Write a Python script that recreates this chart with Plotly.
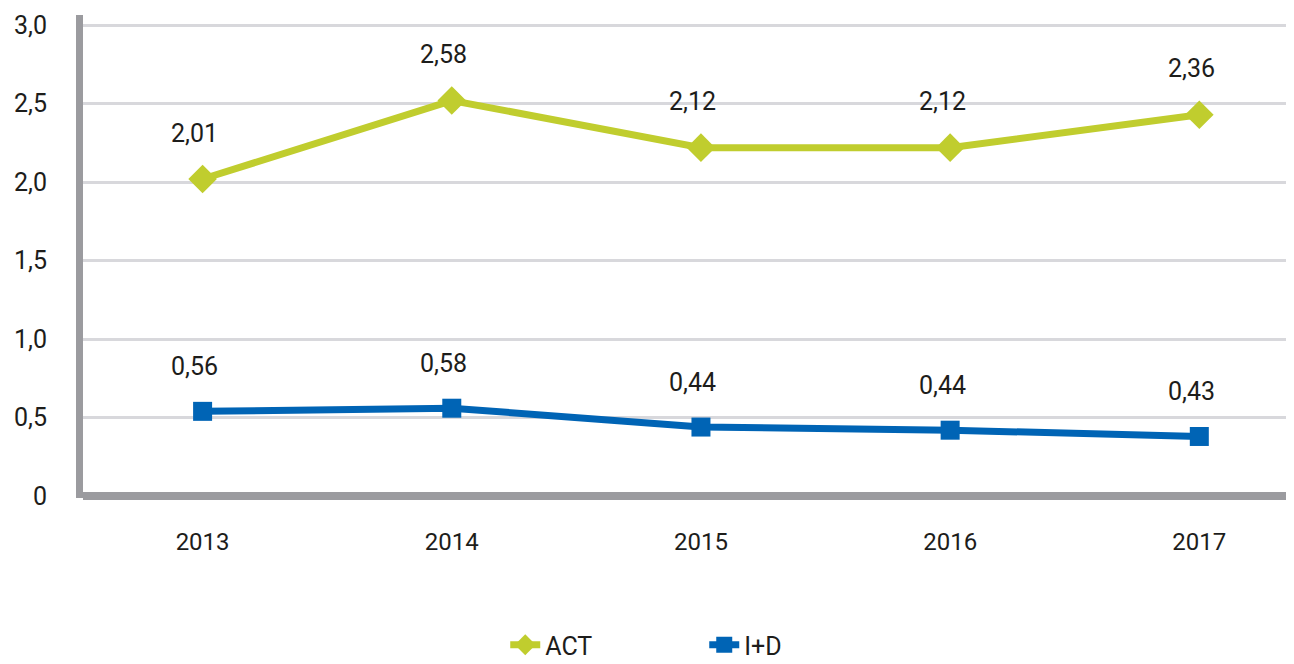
import plotly.graph_objects as go

years = ["2013", "2014", "2015", "2016", "2017"]
act_values = [2.02, 2.52, 2.22, 2.22, 2.43]
act_labels = ["2,01", "2,58", "2,12", "2,12", "2,36"]
id_values = [0.54, 0.56, 0.44, 0.42, 0.38]
id_labels = ["0,56", "0,58", "0,44", "0,44", "0,43"]
y_ticks = [0, 0.5, 1.0, 1.5, 2.0, 2.5, 3.0]
y_ticktext = ["0", "0,5", "1,0", "1,5", "2,0", "2,5", "3,0"]

ACT_COLOR = "#c0cd2e"
ID_COLOR = "#0064b5"
AXIS_COLOR = "#9b9b9f"
TEXT_COLOR = "#1d1d1b"
FONT = "Roboto"
xs = list(range(len(years)))

fig = go.Figure()
fig.add_trace(go.Scatter(
    x=xs, y=act_values, name="ACT", mode="lines+markers",
    line=dict(color=ACT_COLOR, width=7),
    marker=dict(symbol="diamond", size=22, color=ACT_COLOR),
))
fig.add_trace(go.Scatter(
    x=xs, y=id_values, name="I+D", mode="lines+markers",
    line=dict(color=ID_COLOR, width=7),
    marker=dict(symbol="square", size=19, color=ID_COLOR),
))

for i, (v, t) in enumerate(zip(act_values, act_labels)):
    fig.add_annotation(x=xs[i], y=v, text=t, showarrow=False, yshift=46, xshift=-8,
                       font=dict(family=FONT, size=25, color=TEXT_COLOR))
for i, (v, t) in enumerate(zip(id_values, id_labels)):
    fig.add_annotation(x=xs[i], y=v, text=t, showarrow=False, yshift=45, xshift=-8,
                       font=dict(family=FONT, size=25, color=TEXT_COLOR))

fig.update_layout(
    width=1286, height=656,
    margin=dict(l=75, r=0, t=7, b=166, autoexpand=False),
    plot_bgcolor="white", paper_bgcolor="white",
    font=dict(family=FONT, size=25, color=TEXT_COLOR),
    showlegend=True,
    legend=dict(orientation="h", x=0.513, xanchor="center", y=-0.352, yanchor="bottom",
                font=dict(family=FONT, size=25, color=TEXT_COLOR),
                entrywidth=154, entrywidthmode="pixels", tracegroupgap=0),
    xaxis=dict(
        range=[-0.48, 4.38], tickvals=xs, ticktext=years,
        showgrid=False, zeroline=False, showline=False,
        ticks="", ticklabelstandoff=27,
        tickfont=dict(family=FONT, size=24, color=TEXT_COLOR),
    ),
    yaxis=dict(
        range=[-0.012, 3.065], tickvals=y_ticks, ticktext=y_ticktext,
        showgrid=True, gridcolor="#d8d8dc", gridwidth=3,
        zeroline=True, zerolinecolor=AXIS_COLOR, zerolinewidth=8,
        showline=True, linecolor=AXIS_COLOR, linewidth=7,
        ticks="", ticklabelstandoff=24,
        tickfont=dict(family=FONT, size=25, color=TEXT_COLOR),
    ),
)

fig.write_html("out.html")
